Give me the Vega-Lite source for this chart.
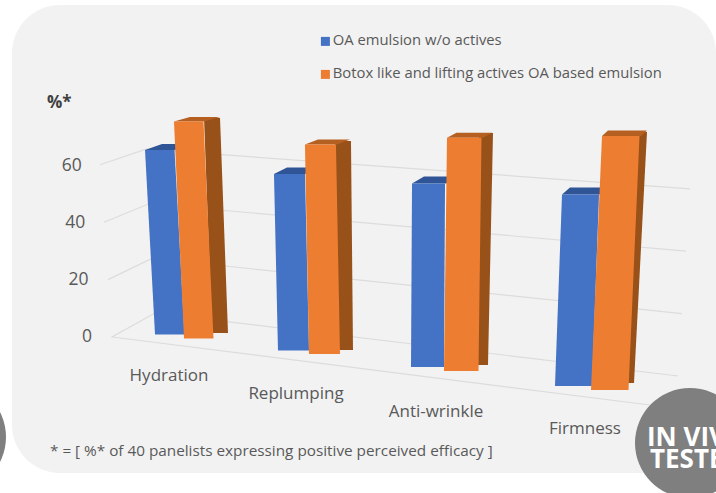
{"$schema":"https://vega.github.io/schema/vega-lite/v6.json","width":704,"height":468,"padding":{"left":12,"top":5,"right":0,"bottom":20},"autosize":{"type":"none"},"background":"#ffffff","view":{"fill":"#f2f2f2","stroke":null,"cornerRadius":48},"config":{"font":"Open Sans","text":{"font":"Open Sans"},"legend":{"labelFont":"Open Sans"}},"resolve":{"scale":{"x":"independent","y":"independent"}},"data":{"values":[{"category":"Hydration","series":"OA emulsion w/o actives","value":64},{"category":"Hydration","series":"Botox like and lifting actives OA based emulsion","value":76},{"category":"Replumping","series":"OA emulsion w/o actives","value":60},{"category":"Replumping","series":"Botox like and lifting actives OA based emulsion","value":72},{"category":"Anti-wrinkle","series":"OA emulsion w/o actives","value":60},{"category":"Anti-wrinkle","series":"Botox like and lifting actives OA based emulsion","value":77},{"category":"Firmness","series":"OA emulsion w/o actives","value":60},{"category":"Firmness","series":"Botox like and lifting actives OA based emulsion","value":80}]},"layer":[
{"data":{"values":[{"level":0,"vertex":-1},{"level":0,"vertex":0},{"level":0,"vertex":1},{"level":0,"vertex":2},{"level":20,"vertex":0},{"level":20,"vertex":1},{"level":20,"vertex":2},{"level":40,"vertex":0},{"level":40,"vertex":1},{"level":40,"vertex":2},{"level":60,"vertex":0},{"level":60,"vertex":1},{"level":60,"vertex":2}]},"transform":[{"calculate":"datum.vertex==-1?650:datum.vertex==0?112-datum.level*0.2:datum.vertex==1?155-datum.level*0.15:678+datum.level*0.2","as":"gx"},{"calculate":"datum.vertex==-1?405:datum.vertex==0?337-datum.level*2.87:datum.vertex==1?313-datum.level*2.73:376-datum.level*3.12","as":"gy"}],"mark":{"type":"line","color":"#dcdcdc","strokeWidth":1.2},"encoding":{"x":{"field":"gx","type":"quantitative","scale":{"domain":[12,716],"range":[0,704]},"axis":null},"y":{"field":"gy","type":"quantitative","scale":{"domain":[5,473],"range":[0,468]},"axis":null},"detail":{"field":"level"},"order":{"field":"vertex"}}},
{"data":{"values":[{"level":0},{"level":20},{"level":40},{"level":60}]},"transform":[{"calculate":"92-datum.level*0.17","as":"lx"},{"calculate":"337-datum.level*2.85","as":"ly"}],"mark":{"type":"text","align":"right","baseline":"middle","fontSize":17.5,"color":"#595959"},"encoding":{"x":{"field":"lx","type":"quantitative","scale":{"domain":[12,716],"range":[0,704]},"axis":null},"y":{"field":"ly","type":"quantitative","scale":{"domain":[5,473],"range":[0,468]},"axis":null},"text":{"field":"level"}}},
{"data":{"values":[{"label":"Hydration"},{"label":"Replumping"},{"label":"Anti-wrinkle"},{"label":"Firmness"}]},"transform":[{"calculate":"({'Hydration':169,'Replumping':296,'Anti-wrinkle':436,'Firmness':585})[datum.label]","as":"lx"},{"calculate":"({'Hydration':376,'Replumping':394,'Anti-wrinkle':412,'Firmness':429})[datum.label]","as":"ly"}],"mark":{"type":"text","align":"center","baseline":"middle","fontSize":17,"color":"#595959"},"encoding":{"x":{"field":"lx","type":"quantitative","scale":{"domain":[12,716],"range":[0,704]},"axis":null},"y":{"field":"ly","type":"quantitative","scale":{"domain":[5,473],"range":[0,468]},"axis":null},"text":{"field":"label"}}},
{"data":{"values":[{"note":"%*"}]},"transform":[{"calculate":"47","as":"lx"},{"calculate":"103","as":"ly"}],"mark":{"type":"text","align":"left","baseline":"middle","fontSize":17,"fontWeight":"bold","color":"#404040"},"encoding":{"x":{"field":"lx","type":"quantitative","scale":{"domain":[12,716],"range":[0,704]},"axis":null},"y":{"field":"ly","type":"quantitative","scale":{"domain":[5,473],"range":[0,468]},"axis":null},"text":{"field":"note"}}},
{"data":{"values":[{"note":"* = [ %* of 40 panelists expressing  positive perceived efficacy ]"}]},"transform":[{"calculate":"50","as":"lx"},{"calculate":"451","as":"ly"}],"mark":{"type":"text","align":"left","baseline":"middle","fontSize":15.3,"color":"#595959"},"encoding":{"x":{"field":"lx","type":"quantitative","scale":{"domain":[12,716],"range":[0,704]},"axis":null},"y":{"field":"ly","type":"quantitative","scale":{"domain":[5,473],"range":[0,468]},"axis":null},"text":{"field":"note"}}},

{"transform":[{"filter":"datum.category=='Hydration'&&datum.series[0]=='O'"},{"calculate":"datum.value+2.1","as":"back"},{"fold":["value","back"],"as":["end","level"]},{"calculate":"(datum.level-datum.value)*8.1","as":"left"},{"calculate":"datum.left+29.5","as":"right"}],"mark":{"type":"area","orient":"horizontal","color":"#2f5597"},"encoding":{"y":{"field":"level","type":"quantitative","scale":{"domain":[0,100],"range":[329.5,41.2]},"axis":null},"x":{"field":"left","type":"quantitative","stack":null,"scale":{"domain":[0,100],"range":[133,233]},"axis":null},"x2":{"field":"right"}}},
{"transform":[{"filter":"datum.category=='Hydration'&&datum.series[0]=='O'"},{"calculate":"0","as":"base"},{"fold":["base","value"],"as":["end","level"]},{"calculate":"datum.level*-0.156","as":"left"},{"calculate":"datum.left+29.5","as":"right"}],"mark":{"type":"area","orient":"horizontal"},"encoding":{"y":{"field":"level","type":"quantitative","scale":{"domain":[0,100],"range":[329.5,41.2]},"axis":null},"x":{"field":"left","type":"quantitative","stack":null,"scale":{"domain":[0,100],"range":[143,243]},"axis":null},"x2":{"field":"right"},"color":{"field":"series","type":"nominal","scale":{"domain":["OA emulsion w/o actives","Botox like and lifting actives OA based emulsion"],"range":["#4472c4","#ed7d31"]},"legend":{"orient":"none","legendX":306,"legendY":29,"title":null,"symbolType":"square","symbolSize":81,"symbolStrokeWidth":0,"labelFontSize":14.8,"labelColor":"#595959","labelLimit":400,"rowPadding":17,"labelOffset":0}}}},
{"transform":[{"filter":"datum.category=='Hydration'&&datum.series[0]=='B'"},{"calculate":"0","as":"base"},{"fold":["base","value"],"as":["end","level"]},{"calculate":"datum.level*-0.105","as":"left"},{"calculate":"datum.left+16","as":"right"}],"mark":{"type":"area","orient":"horizontal","color":"#975119"},"encoding":{"y":{"field":"level","type":"quantitative","scale":{"domain":[0,100],"range":[328,45.1]},"axis":null},"x":{"field":"left","type":"quantitative","stack":null,"scale":{"domain":[0,100],"range":[200,300]},"axis":null},"x2":{"field":"right"}}},
{"transform":[{"filter":"datum.category=='Hydration'&&datum.series[0]=='B'"},{"calculate":"datum.value+1.58","as":"back"},{"fold":["value","back"],"as":["end","level"]},{"calculate":"(datum.level-datum.value)*10.1","as":"left"},{"calculate":"datum.left+30","as":"right"}],"mark":{"type":"area","orient":"horizontal","color":"#b55f20"},"encoding":{"y":{"field":"level","type":"quantitative","scale":{"domain":[0,100],"range":[333.5,48]},"axis":null},"x":{"field":"left","type":"quantitative","stack":null,"scale":{"domain":[0,100],"range":[162,262]},"axis":null},"x2":{"field":"right"}}},
{"transform":[{"filter":"datum.category=='Hydration'&&datum.series[0]=='B'"},{"calculate":"0","as":"base"},{"fold":["base","value"],"as":["end","level"]},{"calculate":"datum.level*-0.132","as":"left"},{"calculate":"datum.left+29.5","as":"right"}],"mark":{"type":"area","orient":"horizontal"},"encoding":{"y":{"field":"level","type":"quantitative","scale":{"domain":[0,100],"range":[333.5,48]},"axis":null},"x":{"field":"left","type":"quantitative","stack":null,"scale":{"domain":[0,100],"range":[172,272]},"axis":null},"x2":{"field":"right"},"color":{"field":"series","type":"nominal"}}},

{"transform":[{"filter":"datum.category=='Replumping'&&datum.series[0]=='O'"},{"calculate":"datum.value+2.21","as":"back"},{"fold":["value","back"],"as":["end","level"]},{"calculate":"(datum.level-datum.value)*5.88","as":"left"},{"calculate":"datum.left+31","as":"right"}],"mark":{"type":"area","orient":"horizontal","color":"#2f5597"},"encoding":{"y":{"field":"level","type":"quantitative","scale":{"domain":[0,100],"range":[345.5,51.3]},"axis":null},"x":{"field":"left","type":"quantitative","stack":null,"scale":{"domain":[0,100],"range":[262,362]},"axis":null},"x2":{"field":"right"}}},
{"transform":[{"filter":"datum.category=='Replumping'&&datum.series[0]=='O'"},{"calculate":"0","as":"base"},{"fold":["base","value"],"as":["end","level"]},{"calculate":"datum.level*-0.067","as":"left"},{"calculate":"datum.left+31","as":"right"}],"mark":{"type":"area","orient":"horizontal"},"encoding":{"y":{"field":"level","type":"quantitative","scale":{"domain":[0,100],"range":[345.5,51.3]},"axis":null},"x":{"field":"left","type":"quantitative","stack":null,"scale":{"domain":[0,100],"range":[266,366]},"axis":null},"x2":{"field":"right"},"color":{"field":"series","type":"nominal"}}},
{"transform":[{"filter":"datum.category=='Replumping'&&datum.series[0]=='B'"},{"calculate":"0","as":"base"},{"fold":["base","value"],"as":["end","level"]},{"calculate":"datum.level*-0.028","as":"left"},{"calculate":"datum.left+16","as":"right"}],"mark":{"type":"area","orient":"horizontal","color":"#975119"},"encoding":{"y":{"field":"level","type":"quantitative","scale":{"domain":[0,100],"range":[345,54.7]},"axis":null},"x":{"field":"left","type":"quantitative","stack":null,"scale":{"domain":[0,100],"range":[325,425]},"axis":null},"x2":{"field":"right"}}},
{"transform":[{"filter":"datum.category=='Replumping'&&datum.series[0]=='B'"},{"calculate":"datum.value+1.72","as":"back"},{"fold":["value","back"],"as":["end","level"]},{"calculate":"(datum.level-datum.value)*7.56","as":"left"},{"calculate":"datum.left+32","as":"right"}],"mark":{"type":"area","orient":"horizontal","color":"#b55f20"},"encoding":{"y":{"field":"level","type":"quantitative","scale":{"domain":[0,100],"range":[349,58]},"axis":null},"x":{"field":"left","type":"quantitative","stack":null,"scale":{"domain":[0,100],"range":[293,393]},"axis":null},"x2":{"field":"right"}}},
{"transform":[{"filter":"datum.category=='Replumping'&&datum.series[0]=='B'"},{"calculate":"0","as":"base"},{"fold":["base","value"],"as":["end","level"]},{"calculate":"datum.level*-0.056","as":"left"},{"calculate":"datum.left+31","as":"right"}],"mark":{"type":"area","orient":"horizontal"},"encoding":{"y":{"field":"level","type":"quantitative","scale":{"domain":[0,100],"range":[349,58]},"axis":null},"x":{"field":"left","type":"quantitative","stack":null,"scale":{"domain":[0,100],"range":[297,397]},"axis":null},"x2":{"field":"right"},"color":{"field":"series","type":"nominal"}}},

{"transform":[{"filter":"datum.category=='Anti-wrinkle'&&datum.series[0]=='O'"},{"calculate":"datum.value+2.29","as":"back"},{"fold":["value","back"],"as":["end","level"]},{"calculate":"(datum.level-datum.value)*5.24","as":"left"},{"calculate":"datum.left+34","as":"right"}],"mark":{"type":"area","orient":"horizontal","color":"#2f5597"},"encoding":{"y":{"field":"level","type":"quantitative","scale":{"domain":[0,100],"range":[362,56.2]},"axis":null},"x":{"field":"left","type":"quantitative","stack":null,"scale":{"domain":[0,100],"range":[400,500]},"axis":null},"x2":{"field":"right"}}},
{"transform":[{"filter":"datum.category=='Anti-wrinkle'&&datum.series[0]=='O'"},{"calculate":"0","as":"base"},{"fold":["base","value"],"as":["end","level"]},{"calculate":"datum.level*0.017","as":"left"},{"calculate":"datum.left+33","as":"right"}],"mark":{"type":"area","orient":"horizontal"},"encoding":{"y":{"field":"level","type":"quantitative","scale":{"domain":[0,100],"range":[362,56.2]},"axis":null},"x":{"field":"left","type":"quantitative","stack":null,"scale":{"domain":[0,100],"range":[399,499]},"axis":null},"x2":{"field":"right"},"color":{"field":"series","type":"nominal"}}},
{"transform":[{"filter":"datum.category=='Anti-wrinkle'&&datum.series[0]=='B'"},{"calculate":"0","as":"base"},{"fold":["base","value"],"as":["end","level"]},{"calculate":"datum.level*0.065","as":"left"},{"calculate":"datum.left+14","as":"right"}],"mark":{"type":"area","orient":"horizontal","color":"#975119"},"encoding":{"y":{"field":"level","type":"quantitative","scale":{"domain":[0,100],"range":[360,58.7]},"axis":null},"x":{"field":"left","type":"quantitative","stack":null,"scale":{"domain":[0,100],"range":[462,562]},"axis":null},"x2":{"field":"right"}}},
{"transform":[{"filter":"datum.category=='Anti-wrinkle'&&datum.series[0]=='B'"},{"calculate":"datum.value+1.65","as":"back"},{"fold":["value","back"],"as":["end","level"]},{"calculate":"(datum.level-datum.value)*5.76","as":"left"},{"calculate":"datum.left+36","as":"right"}],"mark":{"type":"area","orient":"horizontal","color":"#b55f20"},"encoding":{"y":{"field":"level","type":"quantitative","scale":{"domain":[0,100],"range":[366,63]},"axis":null},"x":{"field":"left","type":"quantitative","stack":null,"scale":{"domain":[0,100],"range":[435,535]},"axis":null},"x2":{"field":"right"}}},
{"transform":[{"filter":"datum.category=='Anti-wrinkle'&&datum.series[0]=='B'"},{"calculate":"0","as":"base"},{"fold":["base","value"],"as":["end","level"]},{"calculate":"datum.level*0.039","as":"left"},{"calculate":"datum.left+34.5","as":"right"}],"mark":{"type":"area","orient":"horizontal"},"encoding":{"y":{"field":"level","type":"quantitative","scale":{"domain":[0,100],"range":[366,63]},"axis":null},"x":{"field":"left","type":"quantitative","stack":null,"scale":{"domain":[0,100],"range":[432,532]},"axis":null},"x2":{"field":"right"},"color":{"field":"series","type":"nominal"}}},

{"transform":[{"filter":"datum.category=='Firmness'&&datum.series[0]=='O'"},{"calculate":"datum.value+2.19","as":"back"},{"fold":["value","back"],"as":["end","level"]},{"calculate":"(datum.level-datum.value)*3.65","as":"left"},{"calculate":"datum.left+38","as":"right"}],"mark":{"type":"area","orient":"horizontal","color":"#2f5597"},"encoding":{"y":{"field":"level","type":"quantitative","scale":{"domain":[0,100],"range":[381,61.8]},"axis":null},"x":{"field":"left","type":"quantitative","stack":null,"scale":{"domain":[0,100],"range":[550,650]},"axis":null},"x2":{"field":"right"}}},
{"transform":[{"filter":"datum.category=='Firmness'&&datum.series[0]=='O'"},{"calculate":"0","as":"base"},{"fold":["base","value"],"as":["end","level"]},{"calculate":"datum.level*0.117","as":"left"},{"calculate":"datum.left+37","as":"right"}],"mark":{"type":"area","orient":"horizontal"},"encoding":{"y":{"field":"level","type":"quantitative","scale":{"domain":[0,100],"range":[381,61.8]},"axis":null},"x":{"field":"left","type":"quantitative","stack":null,"scale":{"domain":[0,100],"range":[543,643]},"axis":null},"x2":{"field":"right"},"color":{"field":"series","type":"nominal"}}},
{"transform":[{"filter":"datum.category=='Firmness'&&datum.series[0]=='B'"},{"calculate":"0","as":"base"},{"fold":["base","value"],"as":["end","level"]},{"calculate":"datum.level*0.1625","as":"left"},{"calculate":"datum.left+12","as":"right"}],"mark":{"type":"area","orient":"horizontal","color":"#975119"},"encoding":{"y":{"field":"level","type":"quantitative","scale":{"domain":[0,100],"range":[378,64.25]},"axis":null},"x":{"field":"left","type":"quantitative","stack":null,"scale":{"domain":[0,100],"range":[610,710]},"axis":null},"x2":{"field":"right"}}},
{"transform":[{"filter":"datum.category=='Firmness'&&datum.series[0]=='B'"},{"calculate":"datum.value+1.73","as":"back"},{"fold":["value","back"],"as":["end","level"]},{"calculate":"(datum.level-datum.value)*3.47","as":"left"},{"calculate":"datum.left+39","as":"right"}],"mark":{"type":"area","orient":"horizontal","color":"#b55f20"},"encoding":{"y":{"field":"level","type":"quantitative","scale":{"domain":[0,100],"range":[385,67.5]},"axis":null},"x":{"field":"left","type":"quantitative","stack":null,"scale":{"domain":[0,100],"range":[590,690]},"axis":null},"x2":{"field":"right"}}},
{"transform":[{"filter":"datum.category=='Firmness'&&datum.series[0]=='B'"},{"calculate":"0","as":"base"},{"fold":["base","value"],"as":["end","level"]},{"calculate":"datum.level*0.1375","as":"left"},{"calculate":"datum.left+37.5","as":"right"}],"mark":{"type":"area","orient":"horizontal"},"encoding":{"y":{"field":"level","type":"quantitative","scale":{"domain":[0,100],"range":[385,67.5]},"axis":null},"x":{"field":"left","type":"quantitative","stack":null,"scale":{"domain":[0,100],"range":[579,679]},"axis":null},"x2":{"field":"right"},"color":{"field":"series","type":"nominal"}}},

{"data":{"values":[{"badge":"right"},{"badge":"left"}]},"transform":[{"calculate":"datum.badge=='right'?690:-49","as":"lx"},{"calculate":"datum.badge=='right'?443:437","as":"ly"}],"mark":{"type":"point","filled":true,"opacity":1,"size":12100,"color":"#7f7f7f","clip":false},"encoding":{"x":{"field":"lx","type":"quantitative","scale":{"domain":[12,716],"range":[0,704]},"axis":null},"y":{"field":"ly","type":"quantitative","scale":{"domain":[5,473],"range":[0,468]},"axis":null}}},
{"data":{"values":[{"line":"IN VIVO"},{"line":"TESTED"}]},"transform":[{"calculate":"datum.line=='IN VIVO'?647:650","as":"lx"},{"calculate":"datum.line=='IN VIVO'?446:468","as":"ly"}],"mark":{"type":"text","align":"left","baseline":"alphabetic","fontSize":26,"fontWeight":"bold","color":"#ffffff"},"encoding":{"x":{"field":"lx","type":"quantitative","scale":{"domain":[12,716],"range":[0,704]},"axis":null},"y":{"field":"ly","type":"quantitative","scale":{"domain":[5,473],"range":[0,468]},"axis":null},"text":{"field":"line"}}}
]}
